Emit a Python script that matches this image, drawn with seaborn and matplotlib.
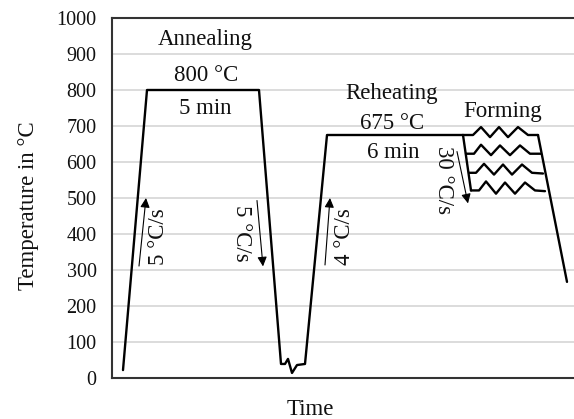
import pandas as pd
import matplotlib
matplotlib.use("Agg")
import matplotlib.pyplot as plt
import seaborn as sns

# main heat treatment path (time in arbitrary units, temperature in C)
main_time = [11, 35, 147, 169, 173, 176, 180, 185, 193, 215, 351]
main_temp = [22, 800, 800, 39, 39, 53, 14, 36, 39, 675, 675]

# forming steps (zigzag rows)
row1_time = [351, 361, 369, 378, 387, 396, 406, 416, 426]
row1_temp = [675, 675, 697, 669, 697, 669, 697, 675, 675]
row2_time = [354, 362, 369, 379, 388, 398, 408, 418, 429]
row2_temp = [623, 623, 648, 619, 646, 619, 646, 623, 623]
row3_time = [357, 364, 372, 382, 391, 400, 410, 420, 431]
row3_temp = [570, 570, 595, 565, 593, 565, 593, 570, 568]
row4_time = [359, 367, 374, 384, 393, 403, 413, 423, 433]
row4_temp = [521, 521, 546, 512, 543, 512, 543, 521, 519]

left_time = [351, 359]
left_temp = [675, 521]
right_time = [426, 455]
right_temp = [675, 267]

yticks = list(range(0, 1001, 100))

# rate arrows: (tail t, tail T, head t, head T, label, text t, text T, rotation)
arrows = [
    (27, 311, 34, 500, "5 °C/s", 46, 392, 90),
    (145, 493, 151, 310, "5 °C/s", 129, 401, -90),
    (213, 314, 218, 500, "4 °C/s", 232, 393, 90),
    (345, 629, 356, 485, "30 °C/s", 331, 550, -90),
]

labels = [
    ("Annealing", 93, 939),
    ("800 °C", 94, 839),
    ("5 min", 93, 750),
    ("Reheating", 280, 789),
    ("675 °C", 280, 707),
    ("6 min", 281, 625),
    ("Forming", 391, 739),
]

sns.set_theme(style="whitegrid")
plt.rcParams['font.family'] = ['Liberation Serif', 'DejaVu Serif']

fig = plt.figure(figsize=(5.74, 4.19), dpi=100)
ax = fig.add_axes([112 / 574, 41 / 419, 488 / 574, 360 / 419])

segments = [
    (main_time, main_temp), (row1_time, row1_temp), (row2_time, row2_temp),
    (row3_time, row3_temp), (row4_time, row4_temp),
    (left_time, left_temp), (right_time, right_temp),
]
for t, T in segments:
    df = pd.DataFrame({"t": t, "T": T})
    sns.lineplot(data=df, x="t", y="T", sort=False, estimator=None,
                 color="black", linewidth=1.7, ax=ax)

for t0, T0, t1, T1, txt, tx, ty, rot in arrows:
    ax.annotate("", xy=(t1, T1), xytext=(t0, T0),
                arrowprops=dict(arrowstyle="-|>", color="black", lw=0.8,
                                mutation_scale=14, shrinkA=0, shrinkB=0))
    ax.text(tx, ty, txt, rotation=rot, ha="center", va="center",
            fontsize=16.5, color="#111111")

for txt, tx, ty in labels:
    ax.text(tx, ty, txt, ha="center", va="center", fontsize=16.5,
            color="#111111")

ax.set_xlim(0, 488)
ax.set_ylim(0, 1000)
ax.set_yticks(yticks)
ax.set_xticks([])
ax.tick_params(axis="y", length=0, pad=11, labelsize=14.5, colors="#111111")
ax.grid(axis="y", color="#d9d9d9", linewidth=1.3)
ax.grid(axis="x", visible=False)
for s in ax.spines.values():
    s.set_color("#333333")
    s.set_linewidth(1.5)

ax.set_xlabel("Time", fontsize=16.5, color="#111111")
ax.xaxis.set_label_coords((310 - 112) / 488, -0.058)
ax.set_ylabel("Temperature in °C", fontsize=16.5, color="#111111")
ax.yaxis.set_label_coords((39 - 112) / 488, 0.48)

fig.savefig("out.png", dpi=100)
